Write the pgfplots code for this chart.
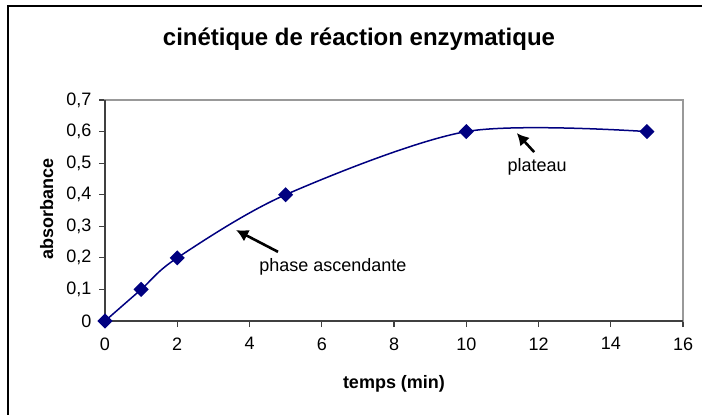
\documentclass[border=0pt]{standalone}
\usepackage{fontspec}
\setmainfont{Liberation Sans}
\usepackage{pgfplots}
\pgfplotsset{compat=1.18}
\usetikzlibrary{arrows.meta}
\definecolor{navyline}{HTML}{000080}
\begin{document}
\begin{tikzpicture}[x=1bp,y=1bp,font=\fontsize{18bp}{21bp}\selectfont]
\useasboundingbox (0,0) rectangle (702,414);
\draw[line width=1.5bp] (8,-20) -- (8,408) -- (720,408);
\node[font=\bfseries\fontsize{24bp}{28bp}\selectfont, anchor=base] at (359,369) {cinétique de réaction enzymatique};
\node[font=\bfseries\fontsize{18bp}{21bp}\selectfont, rotate=90, anchor=base] at (53,205) {absorbance};
\node[font=\bfseries\fontsize{18bp}{21bp}\selectfont, anchor=base] at (394,26) {temps (min)};
\begin{axis}[
  at={(105bp,93bp)}, anchor=south west,
  scale only axis, width=578bp, height=221bp,
  xmin=0, xmax=16, ymin=0, ymax=0.7,
  xtick={0,2,4,6,8,10,12,14,16},
  ytick={0,0.1,0.2,0.3,0.4,0.5,0.6,0.7},
  tick align=outside, xtick pos=bottom, ytick pos=left,
  major tick length=6bp,
  tick style={black!75, line width=1.2bp},
  axis line style={black!40, line width=1.3bp},
  /pgf/number format/assume math mode=true,
  /pgf/number format/use comma,
  /pgf/number format/fixed,
  /pgf/number format/precision=1,
  tick label style={font=\fontsize{18bp}{21bp}\selectfont},
  xticklabel style={yshift=-7bp},
  yticklabel style={xshift=-4bp},
  clip=false,
]
\draw[black!75, line width=1.3bp] (rel axis cs:0,1) -- (rel axis cs:0,0) -- (rel axis cs:1,0);
\addplot[navyline, line width=1.5bp, smooth, mark=square*, mark size=4.6bp, mark options={rotate=45, solid, fill=navyline}]
  coordinates {(0,0) (1,0.1) (2,0.2) (5,0.4) (10,0.6) (15,0.6)};
\draw[-{Latex[length=12bp,width=13bp]}, line width=2.6bp] (axis cs:4.79,0.219) -- (axis cs:3.63,0.288);
\node at (axis cs:6.31,0.171) {phase ascendante};
\draw[-{Latex[length=12bp,width=13bp]}, line width=2.6bp] (axis cs:11.88,0.535) -- (axis cs:11.4,0.595);
\node at (axis cs:11.96,0.488) {plateau};
\end{axis}
\end{tikzpicture}
\end{document}
